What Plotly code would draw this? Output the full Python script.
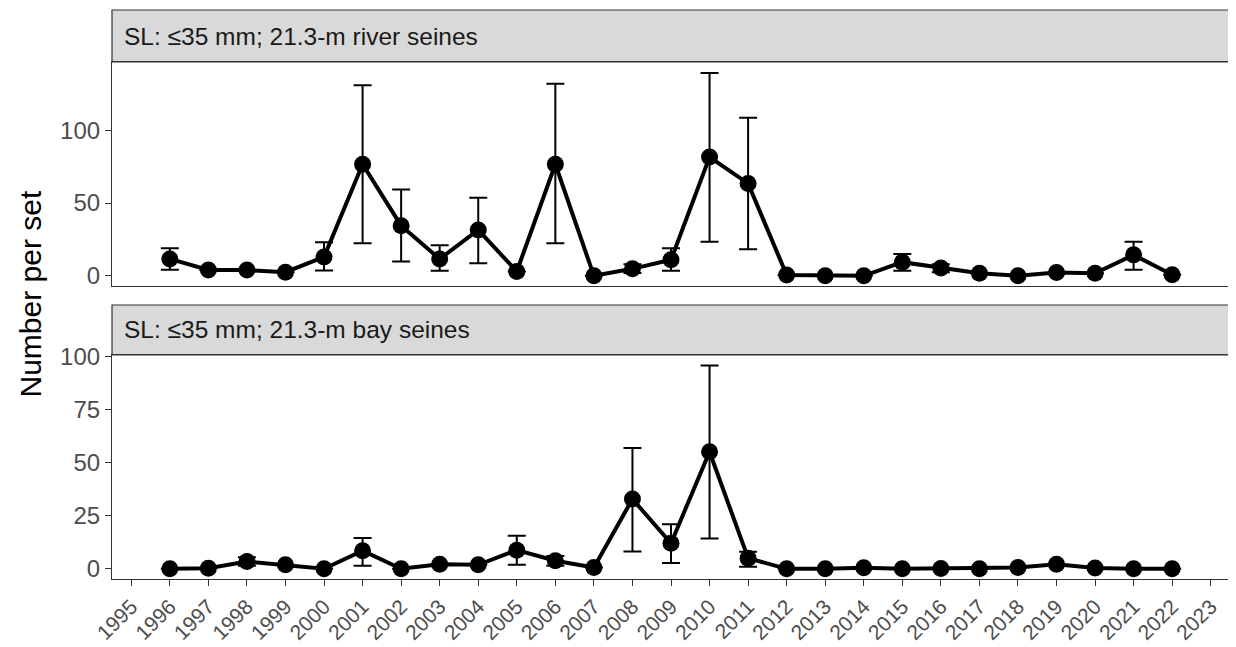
import plotly.graph_objects as go

years = list(range(1996, 2023))

river_mean = [11.6, 4, 4, 2.5, 13, 76.7, 34.5, 11.6, 31.5, 3, 76.7, 0, 4.8, 11, 81.7, 63.5,
              0.5, 0, 0, 9.4, 5.3, 1.8, 0, 2.3, 1.8, 14.4, 0.7]
river_lower = [4.1, 4, 4, 2.5, 3.6, 22.4, 9.8, 3.4, 8.7, 3, 22.4, 0, 2.0, 3.4, 23.5, 18.3,
               0.5, 0, 0, 3.4, 2.5, 1.8, 0, 2.3, 1.8, 4.1, 0.7]
river_upper = [19, 4, 4, 2.5, 23, 131, 59.4, 21, 53.6, 3, 132, 0, 8.0, 19, 139.5, 108.7,
               0.5, 0, 0, 15, 8, 1.8, 0, 2.3, 1.8, 23.5, 0.7]

bay_mean = [0, 0.3, 3.4, 1.9, 0, 8.5, 0, 2.2, 1.9, 8.8, 3.8, 0.6, 32.9, 12, 55.2, 5,
            0, 0, 0.5, 0, 0.2, 0, 0.6, 2.2, 0.4, 0, 0]
bay_lower = [0, 0.3, 1.5, 1.9, 0, 1.4, 0, 2.2, 1.9, 1.9, 1.5, 0.6, 8.2, 2.7, 14.3, 1,
             0, 0, 0.5, 0, 0.2, 0, 0.6, 2.2, 0.4, 0, 0]
bay_upper = [0, 0.3, 5.5, 1.9, 0, 14.5, 0, 2.2, 1.9, 15.6, 6, 0.6, 56.9, 21, 95.8, 8,
             0, 0, 0.5, 0, 0.2, 0, 0.6, 2.2, 0.4, 0, 0]

strip_titles = ["SL: \u226435 mm; 21.3-m river seines", "SL: \u226435 mm; 21.3-m bay seines"]
x_ticks = list(range(1995, 2024))
river_yticks = [0, 50, 100]
bay_yticks = [0, 25, 50, 75, 100]

fig = go.Figure()

def add_series(mean, lower, upper, xa, ya):
    fig.add_trace(go.Scatter(
        x=years, y=mean, xaxis=xa, yaxis=ya, mode="lines+markers",
        line=dict(color="black", width=4),
        marker=dict(color="black", size=17),
        error_y=dict(type="data", symmetric=False,
                     array=[u - m for u, m in zip(upper, mean)],
                     arrayminus=[m - l for m, l in zip(mean, lower)],
                     color="black", thickness=2, width=9),
        showlegend=False, hoverinfo="x+y"))

add_series(river_mean, river_lower, river_upper, "x", "y")
add_series(bay_mean, bay_lower, bay_upper, "x2", "y2")

# page body has an 8px margin; compensate so the picture lines up with the window
OFF = 8
W, HT = 1236 - OFF, 647 - OFF
ML, MR, MT, MB = 112 - OFF, 6, 10 - OFF, HT - (579 - OFF)
H = HT - MT - MB
def py(pix):
    return (HT - MB - (pix - OFF)) / H
PW = W - ML - MR

p1 = [py(286), py(62)]
s1 = [py(62), py(10)]
p2 = [py(579), py(355)]
s2 = [py(355), py(305)]

axis_common = dict(showgrid=False, zeroline=False, showline=True, mirror=True,
                   linecolor="#333333", linewidth=1.2)
tick_common = dict(ticks="outside", ticklen=6, tickcolor="#333333", tickwidth=1.2)
xr = [1994.5, 2023.5]
fig.update_layout(
    width=W, height=HT,
    margin=dict(l=ML, r=MR, t=MT, b=MB, autoexpand=False),
    paper_bgcolor="white", plot_bgcolor="white",
    font=dict(family="Liberation Sans, Arial, sans-serif", color="#4D4D4D"),
    xaxis=dict(domain=[0, 1], range=xr, anchor="y", showticklabels=False, ticks="",
               **axis_common),
    yaxis=dict(domain=p1, range=[-7, 147], anchor="x", tickvals=river_yticks,
               tickfont=dict(size=24, color="#4D4D4D"), **tick_common, **axis_common),
    xaxis2=dict(domain=[0, 1], range=xr, anchor="y2", tickvals=x_ticks,
                ticktext=[str(t) for t in x_ticks], tickangle=-45,
                tickfont=dict(size=21, color="#4D4D4D"), **tick_common, **axis_common),
    yaxis2=dict(domain=p2, range=[-4.8, 100.8], anchor="x2", tickvals=bay_yticks,
                tickfont=dict(size=24, color="#4D4D4D"), **tick_common, **axis_common),
)

shapes = []
annotations = []
for s, title in zip([s1, s2], strip_titles):
    shapes.append(dict(type="rect", xref="paper", yref="paper", x0=0, x1=1,
                       y0=s[0], y1=s[1], fillcolor="#D9D9D9",
                       line=dict(color="#333333", width=1.2), layer="below"))
    annotations.append(dict(text=title, xref="paper", yref="paper",
                            x=10 / PW, y=(s[0] + s[1]) / 2, xanchor="left",
                            yanchor="middle", showarrow=False,
                            font=dict(size=24.5, color="#1A1A1A")))
annotations.append(dict(text="Number per set", xref="paper", yref="paper",
                        x=(30 - 112) / PW, y=py(294.5), textangle=-90,
                        xanchor="center", yanchor="middle", showarrow=False,
                        font=dict(size=30, color="black")))
fig.update_layout(shapes=shapes, annotations=annotations)

fig.write_html("out.html")
